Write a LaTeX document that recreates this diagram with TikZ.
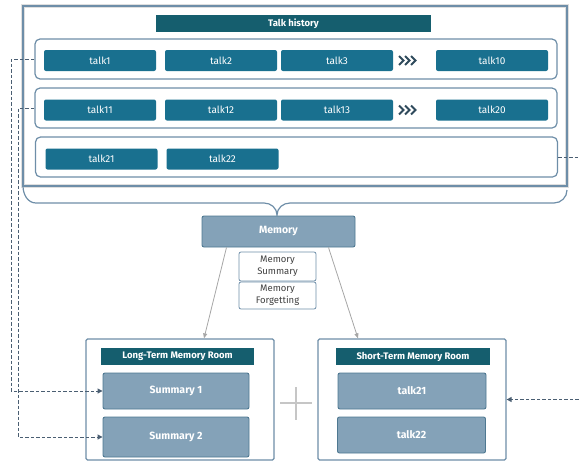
\documentclass[tikz,border=0pt]{standalone}
\usepackage{fontspec}
\setmainfont{Fira Sans}
\usetikzlibrary{positioning,arrows.meta}

\definecolor{talkblue}{HTML}{19708F}
\definecolor{titleteal}{HTML}{155E6E}
\definecolor{memfill}{HTML}{84A2B8}
\definecolor{memedge}{HTML}{4E7891}
\definecolor{frameedge}{HTML}{6E8EA8}
\definecolor{dashgray}{HTML}{4A5E72}
\definecolor{chevron}{HTML}{2F4A5C}

\tikzset{
  talk/.style={fill=talkblue,rounded corners=2pt,text=white,inner sep=0pt,
    minimum width=112pt,minimum height=21pt,font=\fontsize{10}{12}\selectfont},
  rowbox/.style={draw=frameedge,line width=1.2pt,rounded corners=5pt,fill=white,
    minimum width=522pt,minimum height=40pt,inner sep=0pt},
  bar/.style={fill=titleteal,text=white,inner sep=0pt,minimum height=17pt,
    font=\bfseries\fontsize{9.5}{11}\selectfont},
  room/.style={draw=frameedge,line width=1.2pt,rounded corners=1.5pt,fill=white,
    minimum width=188pt,minimum height=121pt,inner sep=0pt},
  memo/.style={fill=memfill,draw=memedge,line width=0.9pt,rounded corners=2pt,
    text=white,inner sep=0pt,font=\bfseries\fontsize{10.5}{12}\selectfont},
  tag/.style={draw=frameedge,line width=0.8pt,rounded corners=2pt,fill=white,
    text=black!75,align=center,inner sep=0pt,minimum width=77pt,
    font=\fontsize{9.5}{12}\selectfont},
  link/.style={dashgray,dash pattern=on 3.5pt off 2pt,line width=1pt,
    -{Triangle[length=5pt,width=5pt]}},
  feed/.style={gray!70,line width=0.8pt,-{Triangle[length=5pt,width=4pt]}}
}

\begin{document}
\begin{tikzpicture}[x=1pt,y=-1pt]
  \useasboundingbox (0,0) rectangle (579,461);

  % history frame and its rows
  \node[draw=frameedge,line width=1.4pt,preaction={draw=gray!25,line width=3.5pt},
    minimum width=544pt,minimum height=180pt,inner sep=0pt] (hist) at (295,96) {};
  \node[bar,minimum width=275pt] (histtitle) at (293.5,23.5) {Talk history};
  \node[rowbox] (row1) at (296,59) {};
  \node[rowbox] (row2) at (296,108) {};
  \node[rowbox] (row3) at (296.5,157) {};

  \foreach \n/\x/\y in {1/100/60.5,2/221/60.5,3/337/60.5,10/492/60.5,
      11/100/110,12/221/110,13/337/110,20/492/110,21/101.5/159,22/222.5/159}
    \node[talk] (t\n) at (\x,\y) {talk\n};

  % skipped talks
  \foreach \y in {60.5,110}
    \foreach \i in {0,1,2}
      \draw[chevron,line width=2pt] (399+6*\i,\y-4.5) -- (403.5+6*\i,\y) -- (399+6*\i,\y+4.5);

  % brace under the history
  \draw[frameedge,line width=1.2pt] (23,186) to[out=-90,in=180] (36,203) -- (264,203)
    to[out=0,in=90] (277,215) to[out=90,in=180] (290,203) -- (554,203)
    to[out=0,in=-90] (567,190);

  % memory and its operations
  \node[memo,minimum width=153pt,minimum height=31pt] (mem) at (278.5,231.5) {Memory};
  \node[tag,minimum height=29pt] (summ) at (277.5,266.5) {Memory\\Summary};
  \node[tag,minimum height=27pt] (forg) at (277.5,295.5) {Memory\\Forgetting};

  % the two rooms
  \node[room] (lt) at (180,399.5) {};
  \node[bar,minimum width=153pt] (lttitle) at (177.5,356.5) {Long-Term Memory Room};
  \node[memo,minimum width=146pt,minimum height=36pt] (sum1) at (176,391) {Summary 1};
  \node[memo,minimum width=146pt,minimum height=40pt] (sum2) at (176,437) {Summary 2};

  \node[room] (st) at (412,399.5) {};
  \node[bar,minimum width=154pt] (sttitle) at (413,356.5) {Short-Term Memory Room};
  \node[memo,minimum width=148pt,minimum height=36pt] (s21) at (412,391) {talk21};
  \node[memo,minimum width=148pt,minimum height=36pt] (s22) at (411.5,435) {talk22};

  \draw[gray!45,line width=1.2pt] (280,403) -- (312,403) (296,387) -- (296,420);

  % flows
  \draw[feed] ([xshift=-52pt]mem.south) -- ([xshift=24pt]lt.north);
  \draw[feed] ([xshift=50pt]mem.south) -- ([xshift=-54pt]st.north);

  \draw[link] (row1.west) -- ++(-23,0) |- (sum1.west);
  \draw[link] (row2.west) -- ++(-16,0) |- (sum2.west);
  \draw[link] (row3.east) -- ++(21,0) |- (st.east);
\end{tikzpicture}
\end{document}
